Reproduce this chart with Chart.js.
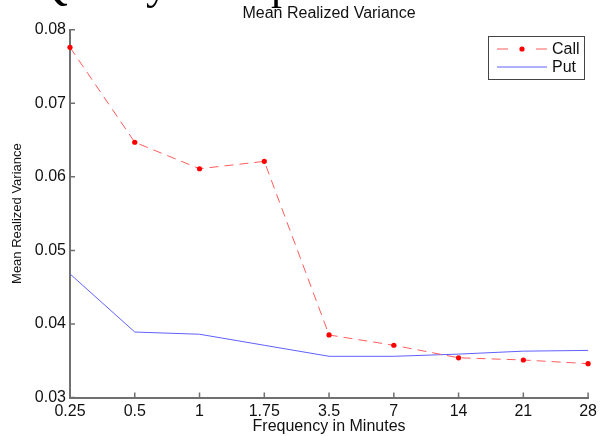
<!DOCTYPE html>
<html>
<head>
<meta charset="utf-8">
<script src="https://cdn.jsdelivr.net/npm/chart.js@4.4.1/dist/chart.umd.min.js"></script>
<style>
  html, body { margin: 0; padding: 0; background: #fff; }
  #wrap { width: 601px; height: 436px; position: relative; }
</style>
</head>
<body>
<div id="wrap"><canvas id="varChart"></canvas></div>
<script>
// frequencies (minutes) and mean realized variance per series
const frequencies = ['0.25', '0.5', '1', '1.75', '3.5', '7', '14', '21', '28'];
const callVariance = [0.0776, 0.0647, 0.0611, 0.0621, 0.0385, 0.0371, 0.0354, 0.0351, 0.0346];
const putVariance = [0.0468, 0.0389, 0.0386, 0.0371, 0.0356, 0.0356, 0.0359, 0.0363, 0.0364];
const yTicks = [0.03, 0.04, 0.05, 0.06, 0.07, 0.08];

const AXIS_COLOR = '#707070';
const FONT = 'Liberation Sans, Arial, sans-serif';

// small tick marks pointing into the plot, like the original
const inwardTicks = {
  id: 'inwardTicks',
  afterDraw(chart) {
    const ctx = chart.ctx;
    const x = chart.scales.x, y = chart.scales.y;
    const area = chart.chartArea;
    ctx.save();
    ctx.strokeStyle = AXIS_COLOR;
    ctx.lineWidth = 1.5;
    ctx.beginPath();
    x.ticks.forEach((t, i) => {
      const px = x.getPixelForTick(i);
      ctx.moveTo(px, area.bottom);
      ctx.lineTo(px, area.bottom - 5);
    });
    y.ticks.forEach((t, i) => {
      const py = y.getPixelForTick(i);
      ctx.moveTo(area.left, py);
      ctx.lineTo(area.left + 5, py);
    });
    ctx.stroke();
    ctx.restore();
  }
};

// boxed legend in the upper right corner
const boxLegend = {
  id: 'boxLegend',
  afterDraw(chart) {
    const ctx = chart.ctx;
    const ds = chart.data.datasets;
    ctx.save();
    ctx.fillStyle = '#fff';
    ctx.fillRect(488, 36, 97, 44);
    ctx.strokeStyle = '#444';
    ctx.lineWidth = 1;
    ctx.strokeRect(488.5, 36.5, 96, 43);
    ds.forEach((d, i) => {
      const yy = 49 + i * 18;
      ctx.strokeStyle = d.borderColor;
      ctx.lineWidth = d.borderWidth;
      ctx.setLineDash(d.borderDash && d.borderDash.length ? [11, 28] : []);
      ctx.beginPath();
      ctx.moveTo(497, yy);
      ctx.lineTo(547, yy);
      ctx.stroke();
      ctx.setLineDash([]);
      if (d.pointRadius > 0) {
        ctx.fillStyle = d.pointBackgroundColor;
        ctx.beginPath();
        ctx.arc(522, yy, d.pointRadius, 0, Math.PI * 2);
        ctx.fill();
      }
      ctx.fillStyle = '#111';
      ctx.font = '16px ' + FONT;
      ctx.textBaseline = 'middle';
      ctx.fillText(d.label, 552, yy + 1);
    });
    ctx.restore();
  }
};

// clipped heading text from the page above the figure
const pageHeading = {
  id: 'pageHeading',
  afterDraw(chart) {
    const ctx = chart.ctx;
    ctx.save();
    ctx.fillStyle = '#000';
    ctx.font = '44px Liberation Serif, Times New Roman, serif';
    ctx.textBaseline = 'alphabetic';
    ctx.fillText('Quality', 36, -1);
    ctx.fillText('p', 271, -1);
    ctx.restore();
  }
};

new Chart(document.getElementById('varChart').getContext('2d'), {
  type: 'line',
  data: {
    labels: frequencies,
    datasets: [
      {
        label: 'Call',
        data: callVariance,
        borderColor: '#ff5c5c',
        borderWidth: 1,
        borderDash: [9, 6],
        pointRadius: 2.6,
        pointBackgroundColor: '#ff0000',
        pointBorderWidth: 0,
        tension: 0
      },
      {
        label: 'Put',
        data: putVariance,
        borderColor: '#6060ff',
        borderWidth: 1,
        pointRadius: 0,
        tension: 0
      }
    ]
  },
  options: {
    responsive: true,
    maintainAspectRatio: false,
    animation: false,
    layout: { padding: { left: 0, right: 9.3, top: 0, bottom: 0 } },
    plugins: {
      legend: { display: false },
      tooltip: { enabled: false },
      title: {
        display: true,
        text: 'Mean Realized Variance',
        fullSize: false,
        color: '#111',
        font: { family: FONT, size: 16, weight: 'normal' },
        padding: { top: 4, bottom: 6.5 }
      }
    },
    scales: {
      x: {
        type: 'category',
        offset: false,
        grid: { display: false, drawTicks: false },
        border: { display: true, color: AXIS_COLOR, width: 2 },
        ticks: { color: '#111', padding: 4, maxRotation: 0, font: { family: FONT, size: 16 } },
        title: {
          display: true,
          text: 'Frequency in Minutes',
          color: '#111',
          font: { family: FONT, size: 16 },
          padding: { top: 0, bottom: 0 }
        },
        afterFit(scale) { scale.height = 38.5; }
      },
      y: {
        min: 0.03,
        max: 0.08,
        grid: { display: false, drawTicks: false },
        border: { display: true, color: AXIS_COLOR, width: 2 },
        afterBuildTicks(scale) { scale.ticks = yTicks.map(v => ({ value: v })); },
        ticks: {
          color: '#111',
          padding: 4,
          font: { family: FONT, size: 16 },
          callback: v => Number(v).toFixed(2)
        },
        title: {
          display: true,
          text: 'Mean Realized Variance',
          color: '#111',
          font: { family: FONT, size: 13 },
          padding: { top: 10, bottom: 0 }
        },
        afterFit(scale) { scale.width = 70; }
      }
    }
  },
  plugins: [inwardTicks, boxLegend, pageHeading]
});
</script>
</body>
</html>
